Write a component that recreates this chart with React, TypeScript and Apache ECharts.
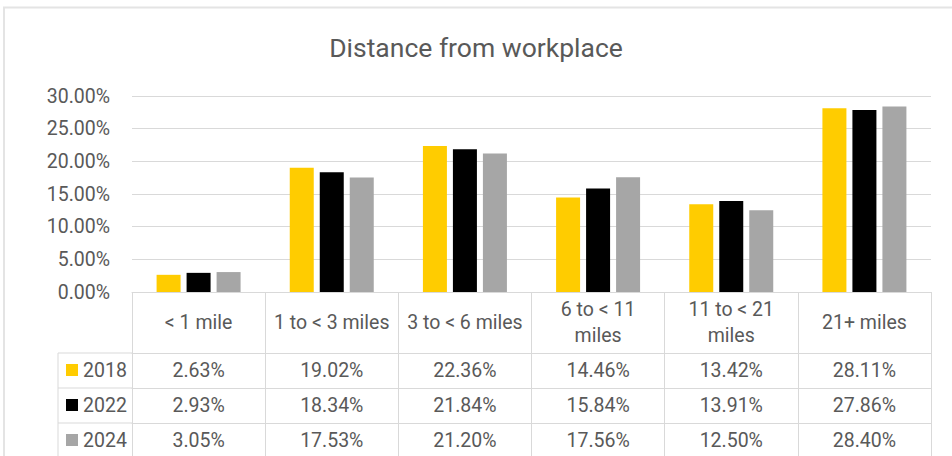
import React, { useEffect, useRef } from "react";
import * as echarts from "echarts";

const title = "Distance from workplace";
const categories = ["< 1 mile", "1 to < 3 miles", "3 to < 6 miles", "6 to < 11\nmiles", "11 to < 21\nmiles", "21+ miles"];
const seriesNames = ["2018", "2022", "2024"];
const values2018 = [2.63, 19.02, 22.36, 14.46, 13.42, 28.11];
const values2022 = [2.93, 18.34, 21.84, 15.84, 13.91, 27.86];
const values2024 = [3.05, 17.53, 21.2, 17.56, 12.5, 28.4];
const seriesValues = [values2018, values2022, values2024];
const colors = ["#FFCC00", "#000000", "#A6A6A6"];
const yMax = 30;
const yInterval = 5;

const W = 952;
const H = 456;
const GL = 132;
const GR = 931;
const GT = 96;
const GB = 292;
const headerH = 61;
const rowH = 35;
const legendLeft = 58;
const lineColor = "#D9D9D9";
const textColor = "#595959";
const font = "Roboto";
const fs = 19.5;

const pct = (v: number) => v.toFixed(2) + "%";

export default function App() {
  const ref = useRef<HTMLDivElement>(null);
  useEffect(() => {
    if (!ref.current) return;
    const chart = echarts.init(ref.current, undefined, { renderer: "svg" });

    const valueAxes = seriesValues.map((vals, i) => ({
      type: "category" as const,
      position: "bottom" as const,
      gridIndex: 0,
      offset: headerH + i * rowH,
      data: vals.map(pct),
      boundaryGap: true,
      axisLine: { show: true, lineStyle: { color: lineColor, width: 1 } },
      axisTick: { show: false },
      axisLabel: {
        interval: 0,
        margin: rowH / 2,
        verticalAlign: "middle" as const,
        fontFamily: font,
        fontSize: fs,
        color: textColor,
      },
      splitLine: { show: false },
    }));

    const tableTop = GB + headerH;
    const graphics: any[] = [
      {
        type: "rect",
        shape: { x: 4, y: 7.5, width: 1000, height: 600 },
        style: { fill: "none", stroke: "#E4E4E4", lineWidth: 2 },
        silent: true,
      },
      {
        type: "line",
        shape: { x1: legendLeft, y1: tableTop, x2: legendLeft, y2: H + 10 },
        style: { stroke: lineColor, lineWidth: 1 },
      },
    ];
    for (let i = 0; i < 3; i++) {
      graphics.push({
        type: "line",
        shape: { x1: legendLeft, y1: tableTop + i * rowH, x2: GL, y2: tableTop + i * rowH },
        style: { stroke: lineColor, lineWidth: 1 },
      });
    }

    chart.setOption({
      animation: false,
      backgroundColor: "#FFFFFF",
      title: {
        text: title,
        left: "center",
        top: 29,
        textStyle: { fontFamily: font, fontSize: 26.5, fontWeight: "normal", color: textColor },
      },
      legend: {
        orient: "vertical",
        left: 66,
        top: tableTop + 7,
        itemWidth: 12,
        itemHeight: 12,
        itemGap: 15,
        padding: 0,
        icon: "rect",
        selectedMode: false,
        textStyle: { fontFamily: font, fontSize: fs, color: textColor, lineHeight: 20 },
        data: seriesNames,
      },
      grid: { left: GL, right: W - GR, top: GT, bottom: H - GB, containLabel: false },
      xAxis: [
        {
          type: "category",
          data: categories,
          boundaryGap: true,
          axisLine: { show: true, lineStyle: { color: lineColor, width: 1 } },
          axisTick: { show: true, interval: 0, length: 200, lineStyle: { color: lineColor, width: 1 } },
          axisLabel: {
            interval: 0,
            margin: headerH / 2,
            verticalAlign: "middle",
            lineHeight: 26,
            fontFamily: font,
            fontSize: fs,
            color: textColor,
          },
        },
        ...valueAxes,
      ],
      yAxis: {
        type: "value",
        min: 0,
        max: yMax,
        interval: yInterval,
        axisLine: { show: false },
        axisTick: { show: false },
        splitLine: { lineStyle: { color: lineColor, width: 1 } },
        axisLabel: {
          margin: 22,
          fontFamily: font,
          fontSize: fs,
          color: textColor,
          formatter: (v: number) => pct(v),
        },
      },
      series: seriesNames.map((name, i) => ({
        name,
        type: "bar",
        xAxisIndex: 0,
        data: seriesValues[i],
        barWidth: 24,
        barGap: "25%",
        itemStyle: { color: colors[i] },
      })),
      graphic: graphics,
    });
    return () => chart.dispose();
  }, []);
  return <div ref={ref} style={{ position: "fixed", left: 0, top: 0, width: W, height: H }} />;
}
